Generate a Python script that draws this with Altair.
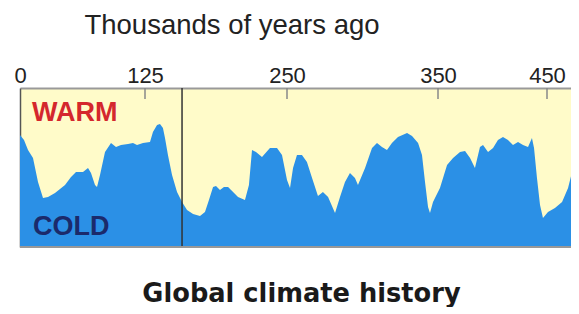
import altair as alt
import pandas as pd

# Thousands of years ago
years = [0, 4, 8, 13, 18, 23, 28, 35, 45, 51, 56, 63, 68, 71, 75, 77, 80, 85, 91, 96,
         101, 108, 113, 117, 123, 129.4, 132.0, 135.6, 138.2, 140.8, 142.6, 145.2, 148.8,
         153.2, 157.6, 162.0, 167.3, 173.4, 177.8, 181.3, 184.9, 187.5, 191.0, 194.5,
         198.1, 202.5, 206.9, 213.0, 216.5, 219.2, 222.7, 228.0, 235.0, 241.2, 245.6,
         250.0, 252.0, 254.0, 256.6, 259.9, 263.2, 266.6, 270.5, 273.8, 277.2, 281.8,
         285.1, 288.4, 291.7, 295.0, 297.0, 301.7, 306.3, 309.6, 312.9, 316.2, 319.5,
         323.5, 329.5, 332.8, 336.8, 339.4, 341.4, 343.4, 344.7, 346.7, 351.8, 358.3,
         363.8, 370.2, 374.8, 379.4, 383.9, 388.5, 391.3, 395.9, 400.5, 405.0, 409.6,
         414.2, 418.8, 423.4, 428.0, 432.6, 436.2, 438.1, 440.8, 443.6, 446.3, 450.9,
         457.3, 463.8, 469.3, 473.9, 477.6, 479.4]
# Relative warmth index (0 = coldest edge of panel, 159 = warmest edge)
warmth = [112, 107, 97, 89, 65, 49, 50, 54, 62, 70, 75, 75, 79, 74, 62, 60, 72, 95, 104, 100,
          102, 103, 104, 102, 104, 105, 115, 122, 123, 119, 109, 92, 72,
          55, 45, 37, 33, 31, 35, 47, 60, 61, 57, 60,
          60, 55, 50, 47, 62, 97, 95, 90, 99, 99, 92,
          67, 59, 79, 92, 92, 85, 69, 51, 55, 50, 34,
          50, 65, 74, 69, 62, 79, 99, 104, 100, 97, 104,
          110, 114, 111, 104, 92, 65, 40, 34, 45, 59, 82,
          89, 95, 96, 89, 79, 100, 102, 95, 99, 107, 110,
          107, 102, 105, 102, 100, 109, 99, 69, 42, 29, 35,
          39, 45, 59, 79, 95, 99]

tick_values = [0, 125, 250, 350, 450]
inner_ticks = [125, 250, 350, 450]
divider_year = [157.6]

df = pd.DataFrame({"year": years, "warmth": warmth})
ticks_df = pd.DataFrame({"year": inner_ticks})
div_df = pd.DataFrame({"year": divider_year})

FONT = "Liberation Sans"
W, H = 551, 159

xscale = alt.Scale(domain=[0, 125, 250, 350, 450, 472.0],
                   range=[0, 125, 267, 418, 527, 551], nice=False, zero=False)
yscale = alt.Scale(domain=[0, 159], nice=False, zero=False)

area = alt.Chart(df).mark_area(color="#2b90e6", opacity=1, interpolate="linear",
                               clip=True).encode(
    x=alt.X("year:Q", scale=xscale,
            axis=alt.Axis(orient="top", values=tick_values, ticks=False, tickSize=0,
                          grid=False, domain=True, domainColor="#999999", domainWidth=2,
                          labelFont=FONT, labelFontSize=22, labelColor="#222222",
                          labelPadding=6, labelBaseline="alphabetic", labelFlush=False,
                          title="Thousands of years ago", titleFont=FONT,
                          titleFontSize=27.5, titleFontWeight="normal", titleColor="#222222",
                          titleX=211.5, titleY=-55, titleAlign="center",
                          titleBaseline="alphabetic", titleAnchor="start")),
    y=alt.Y("warmth:Q", scale=yscale,
            axis=alt.Axis(orient="left", labels=False, ticks=False, grid=False,
                          domain=True, domainColor="#555555", domainWidth=1.5, title="")),
)

tick_rules = alt.Chart(ticks_df).mark_rule(color="#888888", strokeWidth=1.5).encode(
    x=alt.X("year:Q", scale=xscale),
    y=alt.value(0),
    y2=alt.value(11),
)

divider = alt.Chart(div_df).mark_rule(color="#333333", strokeWidth=1.5).encode(
    x=alt.X("year:Q", scale=xscale),
)

bottom_border = alt.Chart(df).mark_rule(color="#999999", strokeWidth=1.5).encode(
    y=alt.Y(datum=0, scale=yscale),
)

warm_lbl = alt.Chart(pd.DataFrame({"t": ["WARM"]})).mark_text(
    font=FONT, fontSize=27, fontWeight="bold", color="#d4272d",
    align="left", baseline="alphabetic").encode(
    text="t:N", x=alt.value(12), y=alt.value(33))

cold_lbl = alt.Chart(pd.DataFrame({"t": ["COLD"]})).mark_text(
    font=FONT, fontSize=27, fontWeight="bold", color="#1b2a6b",
    align="left", baseline="alphabetic").encode(
    text="t:N", x=alt.value(13), y=alt.value(147))

chart = alt.layer(area, tick_rules, divider, bottom_border, warm_lbl, cold_lbl).properties(
    width=W, height=H,
    title=alt.TitleParams("Global climate history", orient="bottom", anchor="middle",
                          font="DejaVu Sans", fontSize=25.7, fontWeight="bold",
                          color="#1a1a1a", baseline="alphabetic", offset=54, dx=6),
    autosize=alt.AutoSizeParams(type="none"),
    padding={"left": 12, "top": 80, "right": 0, "bottom": 60},
).configure_view(fill="#fffbc9", stroke="transparent")

chart.save("out.html", embed_options={"renderer": "svg", "actions": False})
